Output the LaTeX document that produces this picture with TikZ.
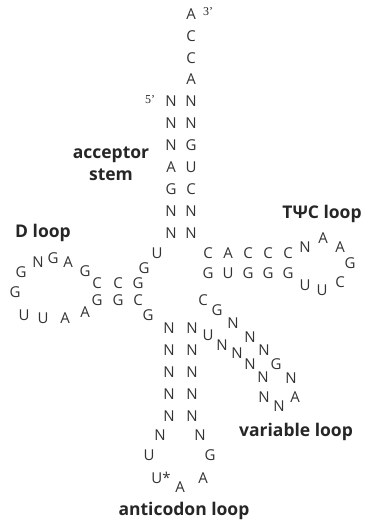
\documentclass[tikz,border=0pt]{standalone}
\usepackage{fontspec}
\setmainfont{Open Sans}
\newfontfamily\labfont{Open Sans Bold}
\newfontfamily\primefont{Liberation Serif}
\tikzset{
  nt/.style={inner sep=0pt, font=\fontsize{15}{15}\selectfont, text=black!80},
  lab/.style={inner sep=0pt, font=\labfont\fontsize{17.5}{17.5}\selectfont, text=black!85},
  prime/.style={inner sep=0pt, font=\primefont\fontsize{12}{12}\selectfont, text=black!85}
}
\begin{document}
\begin{tikzpicture}[x=1pt,y=-1pt]
\useasboundingbox (0,0) rectangle (366,521);
% acceptor stem, 3' strand
\node[nt] (a1) at (191,14) {A};
\node[nt] (a2) at (191,36) {C};
\node[nt] (a3) at (191,58) {C};
\node[nt] (a4) at (191,79) {A};
\node[nt] (r1) at (191,101) {N};
\node[nt] (r2) at (191,123) {N};
\node[nt] (r3) at (191,145) {G};
\node[nt] (r4) at (191,167) {U};
\node[nt] (r5) at (191,189) {C};
\node[nt] (r6) at (191,211) {N};
\node[nt] (r7) at (191,233) {N};
% acceptor stem, 5' strand
\node[nt] (l1) at (171,101) {N};
\node[nt] (l2) at (171,123) {N};
\node[nt] (l3) at (171,145) {N};
\node[nt] (l4) at (171,167) {A};
\node[nt] (l5) at (171,189) {G};
\node[nt] (l6) at (171,211) {N};
\node[nt] (l7) at (171,233) {N};
\node[prime] (p3) at (208,12) {3’};
\node[prime] (p5) at (150,100) {5’};
% linker
\node[nt] (u8) at (157,253) {U};
\node[nt] (g9) at (144,268) {G};
% D stem
\node[nt] (d1) at (138,283) {G};
\node[nt] (d2) at (118,283) {C};
\node[nt] (d3) at (97,283) {C};
\node[nt] (d4) at (97,300) {G};
\node[nt] (d5) at (118,300) {G};
\node[nt] (d6) at (138,300) {C};
% D loop
\node[nt] (dl1) at (85,271) {G};
\node[nt] (dl2) at (68,262) {A};
\node[nt] (dl3) at (53,258) {G};
\node[nt] (dl4) at (38,262) {N};
\node[nt] (dl5) at (21,272) {G};
\node[nt] (dl6) at (15,292) {G};
\node[nt] (dl7) at (24,315) {U};
\node[nt] (dl8) at (43,318) {U};
\node[nt] (dl9) at (65,318) {A};
\node[nt] (dl10) at (85,312) {A};
\node[nt] (g26) at (148,315) {G};
% anticodon stem
\node[nt] (s1) at (169,328) {N};
\node[nt] (s2) at (169,350) {N};
\node[nt] (s3) at (169,372) {N};
\node[nt] (s4) at (169,394) {N};
\node[nt] (s5) at (169,416) {N};
\node[nt] (t1) at (192,328) {N};
\node[nt] (t2) at (192,350) {N};
\node[nt] (t3) at (192,372) {N};
\node[nt] (t4) at (192,394) {N};
\node[nt] (t5) at (192,416) {N};
% anticodon loop
\node[nt] (c1) at (160,435) {N};
\node[nt] (c2) at (149,455) {U};
\node[nt] (c3) at (161,478) {U*};
\node[nt] (c4) at (180,487) {A};
\node[nt] (c5) at (203,478) {A};
\node[nt] (c6) at (210,455) {G};
\node[nt] (c7) at (200,435) {N};
% variable loop
\node[nt] (v1) at (208,335) {U};
\node[nt] (v2) at (222,345) {N};
\node[nt] (v3) at (237,353) {N};
\node[nt] (v4) at (250,364) {N};
\node[nt] (v5) at (263,377) {N};
\node[nt] (v6) at (264,397) {N};
\node[nt] (v7) at (279,406) {N};
\node[nt] (v8) at (295,397) {A};
\node[nt] (v9) at (291,378) {N};
\node[nt] (v10) at (276,364) {G};
\node[nt] (v11) at (264,350) {N};
\node[nt] (v12) at (250,337) {N};
\node[nt] (v13) at (233,323) {N};
\node[nt] (v14) at (217,310) {G};
\node[nt] (v15) at (203,300) {C};
% T stem
\node[nt] (tb1) at (208,273) {G};
\node[nt] (tb2) at (228,273) {U};
\node[nt] (tb3) at (248,273) {G};
\node[nt] (tb4) at (268,273) {G};
\node[nt] (tb5) at (288,273) {G};
\node[nt] (tt1) at (208,253) {C};
\node[nt] (tt2) at (228,253) {A};
\node[nt] (tt3) at (248,253) {C};
\node[nt] (tt4) at (268,253) {C};
\node[nt] (tt5) at (288,253) {C};
% T loop
\node[nt] (tl1) at (305,285) {U};
\node[nt] (tl2) at (322,290) {U};
\node[nt] (tl3) at (340,282) {C};
\node[nt] (tl4) at (350,263) {G};
\node[nt] (tl5) at (340,247) {A};
\node[nt] (tl6) at (323,238) {A};
\node[nt] (tl7) at (305,247) {N};
% labels
\node[lab] (lacc) at (111,155) {acceptor};
\node[lab] (lstem) at (111,175) {stem};
\node[lab] (ld) at (43,233) {D loop};
\node[lab] (lt) at (322,214) {TΨC loop};
\node[lab] (lv) at (296,432) {variable loop};
\node[lab] (lac) at (184,511) {anticodon loop};
\end{tikzpicture}
\end{document}
